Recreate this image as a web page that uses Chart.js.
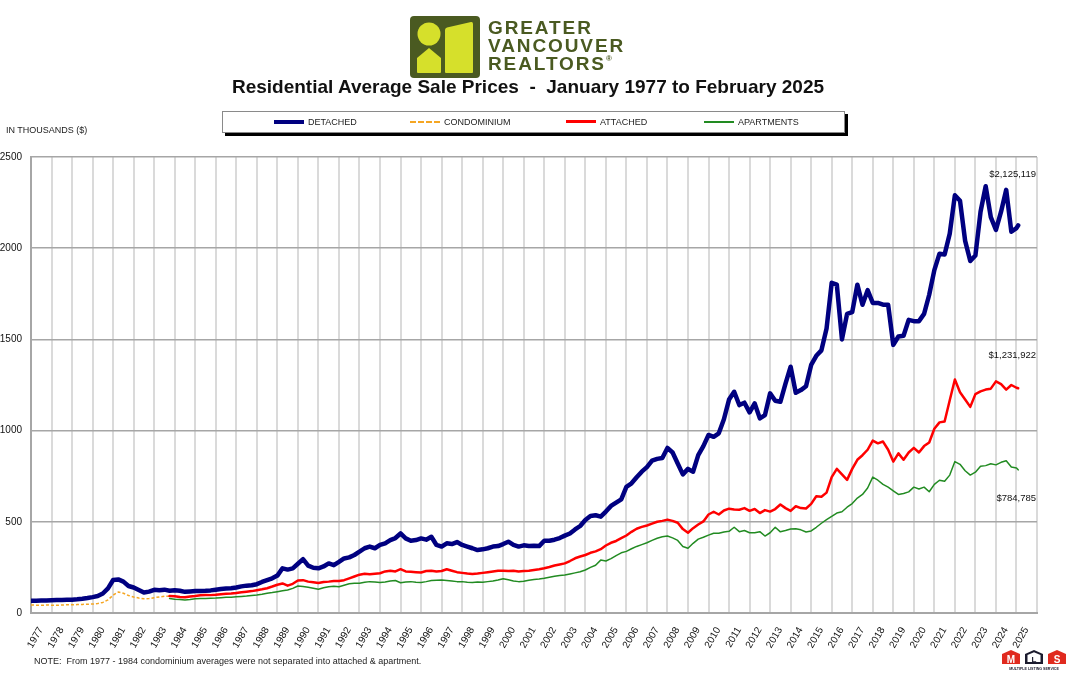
<!DOCTYPE html>
<html>
<head>
<meta charset="utf-8">
<title>Residential Average Sale Prices</title>
<script src="https://cdn.jsdelivr.net/npm/chart.js@4.4.1/dist/chart.umd.min.js"></script>
<style>
    html, body { margin: 0; padding: 0; background: #fff; }
    #wrap { position: relative; width: 1080px; height: 680px; overflow: hidden; font-family: Arial, "Liberation Sans", sans-serif; color: #111; }
    #chart { position: absolute; left: 0; top: 0; }
    .abs { position: absolute; white-space: pre; }
    #logo { left: 410px; top: 16px; }
    #brand { left: 488px; top: 19px; font-weight: bold; font-size: 19px; line-height: 18px; color: #4a5a21; letter-spacing: 1.9px; }
    #brand sup { font-size: 8px; line-height: 0; position: relative; top: -2px; letter-spacing: 0; }
    #title { left: 0; top: 76px; width: 1056px; text-align: center; font-weight: bold; font-size: 19px; color: #111; }
    #legend { left: 222px; top: 111px; width: 621px; height: 20px; border: 1px solid #8a8a8a; box-shadow: 3px 3px 0 #000; background: #fff; }
    .key { position: absolute; top: 4px; font-size: 9px; line-height: 12px; color: #222; }
    .key i { position: absolute; left: -34px; top: 5px; width: 30px; }
    #units { left: 6px; top: 125px; font-size: 9px; color: #222; }
    #note { left: 34px; top: 656px; font-size: 9px; color: #222; }
    #mls { left: 1001px; top: 649px; }
</style>
</head>
<body>
<div id="wrap">
    <canvas id="chart" width="1080" height="680"></canvas>

    <svg id="logo" class="abs" width="70" height="62" viewBox="0 0 70 62">
        <rect x="0" y="0" width="70" height="62" rx="4" fill="#4a5a21"/>
        <circle cx="19" cy="18" r="11.5" fill="#d6e02b"/>
        <path d="M7 42 L19 32 L31 42 L31 56 Q31 57 30 57 L8 57 Q7 57 7 56 Z" fill="#d6e02b"/>
        <path d="M35 14 Q35 12 37 11.5 L61 6 Q63 5.6 63 8 L63 56 Q63 57 62 57 L36 57 Q35 57 35 56 Z" fill="#d6e02b"/>
    </svg>
    <div id="brand" class="abs">GREATER
VANCOUVER
REALTORS<sup>®</sup></div>

    <div id="title" class="abs">Residential Average Sale Prices  -  January 1977 to February 2025</div>

    <div id="legend" class="abs">
        <span class="key" style="left:85px"><i style="border-top:4px solid #000080; top:4px"></i>DETACHED</span>
        <span class="key" style="left:221px"><i style="border-top:2px dashed #f5a623"></i>CONDOMINIUM</span>
        <span class="key" style="left:377px"><i style="border-top:3px solid #ff0000; top:4px"></i>ATTACHED</span>
        <span class="key" style="left:515px"><i style="border-top:2px solid #228b22"></i>APARTMENTS</span>
    </div>

    <div id="units" class="abs">IN THOUSANDS ($)</div>
    <div id="note" class="abs">NOTE:  From 1977 - 1984 condominium averages were not separated into attached &amp; apartment.</div>

    <svg id="mls" class="abs" width="66" height="22" viewBox="0 0 66 22">
        <path d="M1 5 L10 1 L19 5 L19 15 L1 15 Z" fill="#e02a1f"/>
        <text x="10" y="13.5" font-size="10" font-weight="bold" fill="#fff" text-anchor="middle" font-family="Arial, sans-serif">M</text>
        <path d="M24 5 L33 1 L42 5 L42 15 L24 15 Z" fill="#1b1b2e"/>
        <path d="M26.5 6 L33 3.2 L39.5 6 L39.5 13 L26.5 13 Z" fill="#fff"/>
        <text x="33" y="12.5" font-size="8" font-weight="bold" fill="#1b1b2e" text-anchor="middle" font-family="Arial, sans-serif">L</text>
        <path d="M47 5 L56 1 L65 5 L65 15 L47 15 Z" fill="#e02a1f"/>
        <text x="56" y="13.5" font-size="10" font-weight="bold" fill="#fff" text-anchor="middle" font-family="Arial, sans-serif">S</text>
        <text x="33" y="20.5" font-size="3.6" font-weight="bold" fill="#1b1b2e" text-anchor="middle" font-family="Arial, sans-serif">MULTIPLE LISTING SERVICE</text>
    </svg>
</div>

<script>
// quarterly readings (Jan, Apr, Jul, Oct) in thousands of dollars
const START = 1977;          // detached + condominium start
const SPLIT = 1983.75;       // attached / apartment series start
const STEP = 0.25;
const LAST_X = 2025 + 1 / 12; // February 2025

const detached = [
    67, 67, 68, 69,   70, 71, 71, 72,   73, 75, 78, 82,   87, 93, 107, 135,
    181, 184, 172, 148,   140, 126, 112, 117,   127, 125, 128, 122,   125, 122, 116, 118,
    120, 121, 122, 124,   128, 132, 134, 136,   140, 146, 150, 152,   158, 170, 180, 190,
    205, 245, 238, 245,   270, 295, 260, 248,   245, 255, 272, 262,   280, 299, 305, 318,
    336, 355, 364, 355,   373, 382, 400, 411,   436, 409, 396, 400,   409, 402, 418, 373,
    364, 382, 378, 389,   373, 364, 355, 345,   349, 355, 364, 367,   378, 391, 373, 364,
    371, 367, 369, 367,   396, 396, 402, 411,   424, 436, 458, 477,   510, 532, 536, 528,
    556, 587, 605, 623,   692, 711, 744, 775,   800, 835, 845, 850,   905, 880, 820, 760,
    790, 775, 866, 915,   976, 966, 985, 1062,   1170, 1213, 1140, 1153,   1100, 1149, 1067, 1085,
    1204, 1164, 1158, 1258,   1350, 1207, 1222, 1243,   1360, 1410, 1440, 1560,   1810, 1800, 1500, 1640,
    1650, 1800, 1690, 1770,   1700, 1700, 1690, 1690,   1470, 1516, 1520, 1607,   1600, 1600, 1640, 1745,
    1880, 1970, 1965, 2080,   2290, 2260, 2040, 1930,   1960, 2200, 2340, 2170,   2100, 2200, 2320, 2090,
    2110
];

const condominium = [
    44, 43, 42, 44,   43, 42, 44, 45,   45, 46, 47, 48,   49, 52, 58, 72,
    98, 115, 108, 96,   88, 82, 78, 79,   84, 88, 92, 92
];

const attached = [
    93,
    92, 88, 86, 90,   93, 97, 99, 98,   100, 103, 105, 107,   110, 114, 117, 120,
    125, 130, 136, 145,   155, 162, 150, 160,   178, 180, 172, 168,   164, 170, 172, 175,
    175, 180, 190, 200,   210, 215, 212, 215,   218, 228, 232, 228,   240, 228, 226, 224,
    222, 230, 232, 228,   230, 240, 232, 224,   220, 216, 214, 216,   220, 224, 228, 232,
    232, 230, 232, 228,   230, 232, 236, 240,   245, 252, 260, 266,   272, 285, 300, 310,
    318, 330, 338, 350,   370, 385, 395, 410,   425, 445, 462, 472,   480, 490, 500, 505,
    512, 505, 495, 460,   440, 465, 485, 502,   540, 555, 540, 562,   572, 568, 566, 575,
    560, 570, 548, 564,   556, 570, 595, 575,   560, 585, 575, 573,   598, 640, 637, 660,
    745, 790, 760, 730,   790, 840, 865, 895,   945, 930, 940, 895,   830, 875, 840, 880,
    905, 880, 915, 935,   1010, 1045, 1050, 1166,   1280, 1210, 1170, 1130,   1200, 1215, 1225, 1230,
    1270, 1255, 1225, 1250,
    1235
];

const apartments = [
    80,
    76, 74, 71, 74,   78, 80, 80, 81,   82, 84, 86, 87,   89, 91, 93, 96,
    99, 103, 108, 112,   117, 122, 126, 135,   148, 145, 141, 136,   130, 138, 144, 146,
    144, 152, 160, 163,   163, 168, 172, 170,   167, 170, 175, 178,   166, 170, 172, 169,
    167, 172, 178, 180,   181, 178, 175, 172,   172, 168, 167, 170,   168, 172, 176, 181,
    188, 182, 176, 172,   174, 180, 184, 186,   190, 196, 202, 206,   208, 214, 220, 226,
    236, 250, 262, 290,   285, 298, 315, 330,   338, 352, 365, 375,   385, 398, 410, 418,
    422, 412, 398, 365,   355, 382, 405, 415,   427, 437, 437, 444,   448, 470, 446, 452,
    440, 440, 446, 422,   440, 470, 445, 452,   460, 462, 456, 444,   450, 470, 492, 512,
    530, 548, 555, 580,   600, 630, 650, 685,   745, 728, 705, 690,   670, 650, 655, 664,
    690, 680, 690, 665,   705, 728, 722, 756,   830, 815, 780, 756,   772, 805, 808, 818,
    812, 826, 835, 800,
    795
];

// February 2025 figures, also printed at the right edge
const latest = { detached: 2125.119, attached: 1231.922, apartments: 784.785 };

const yTicks = [0, 500, 1000, 1500, 2000, 2500];
const FIRST_YEAR = 1977, LAST_YEAR = 2025, AXIS_END = 2026;


// turn a quarterly list into {x, y} points, tacking the February figure on the end
function toPoints(values, start, last) {
    let pts = values.map((v, i) => ({ x: start + i * STEP, y: v }));
    if (last !== undefined) pts.push({ x: LAST_X, y: last });
    return pts;
}

const yearTicks = [];
for (let yr = FIRST_YEAR; yr <= AXIS_END; yr++) yearTicks.push({ value: yr });

const fontFam = 'Arial, "Liberation Sans", sans-serif';

// right-edge price call-outs
const endNotes = [
    { value: latest.detached, dy: -51 },
    { value: latest.attached, dy: -33 },
    { value: latest.apartments, dy: 29 }
];
const endLabels = {
    id: 'endLabels',
    afterDatasetsDraw(chart) {
        const { ctx, chartArea, scales } = chart;
        ctx.save();
        ctx.font = '9.5px ' + fontFam;
        ctx.fillStyle = '#111';
        ctx.textAlign = 'right';
        ctx.textBaseline = 'middle';
        endNotes.forEach(n => {
            let txt = '$' + Math.round(n.value * 1000).toLocaleString('en-US');
            ctx.fillText(txt, chartArea.right - 1, scales.y.getPixelForValue(n.value) + n.dy);
        });
        ctx.restore();
    }
};

const line = (data, color, width, extra) => Object.assign({
    data: data,
    borderColor: color,
    borderWidth: width,
    pointRadius: 0,
    tension: 0,
    fill: false,
    borderJoinStyle: 'round',
    borderCapStyle: 'round'
}, extra || {});

new Chart(document.getElementById('chart'), {
    type: 'line',
    data: {
        datasets: [
            line(toPoints(apartments, SPLIT, latest.apartments), '#228b22', 1.5),
            line(toPoints(attached, SPLIT, latest.attached), '#ff0000', 2.5),
            line(toPoints(condominium, START), '#f5a623', 1.5, { borderDash: [3, 2], borderCapStyle: 'butt' }),
            line(toPoints(detached, START, latest.detached), '#000080', 4.5)
        ]
    },
    options: {
        responsive: false,
        animation: false,
        events: [],
        layout: { padding: { top: 157, right: 43, bottom: 0, left: 0 } },
        plugins: { legend: { display: false }, tooltip: { enabled: false } },
        scales: {
            x: {
                type: 'linear',
                min: FIRST_YEAR,
                max: AXIS_END,
                afterBuildTicks: s => { s.ticks = yearTicks.map(t => ({ value: t.value })); },
                afterFit: s => { s.height = 67; },
                grid: { color: '#dadada', lineWidth: 2, drawTicks: false },
                border: { display: true, color: '#a6a6a6', width: 2 },
                ticks: {
                    autoSkip: false,
                    minRotation: 60,
                    maxRotation: 60,
                    labelOffset: 10,
                    padding: 12,
                    color: '#111',
                    font: { family: fontFam, size: 10 },
                    callback: v => (v <= LAST_YEAR ? String(v) : '')
                }
            },
            y: {
                min: 0,
                max: 2500,
                afterBuildTicks: s => { s.ticks = yTicks.map(v => ({ value: v })); },
                afterFit: s => { s.width = 31; },
                grid: { color: '#a6a6a6', lineWidth: 1.5, drawTicks: false },
                border: { display: true, color: '#a6a6a6', width: 2 },
                ticks: {
                    padding: 9,
                    color: '#111',
                    font: { family: fontFam, size: 10 },
                    callback: v => String(v)
                }
            }
        }
    },
    plugins: [endLabels]
});
</script>
</body>
</html>
